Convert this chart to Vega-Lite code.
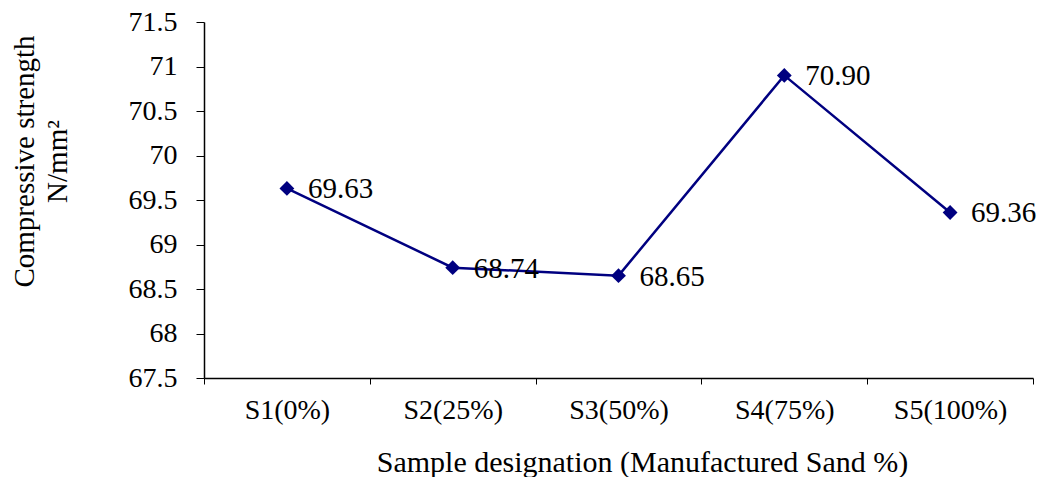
{
  "$schema": "https://vega.github.io/schema/vega-lite/v6.json",
  "autosize": "none",
  "width": 829,
  "height": 356,
  "padding": {"left": 204, "top": 22, "right": 7, "bottom": 99},
  "background": "white",
  "config": {
    "font": "Liberation Serif",
    "view": {"stroke": null},
    "axis": {
      "labelFont": "Liberation Serif",
      "titleFont": "Liberation Serif",
      "labelColor": "black",
      "titleColor": "black",
      "domainColor": "black",
      "tickColor": "black",
      "grid": false,
      "labelFontSize": 28,
      "titleFontSize": 29,
      "titleFontWeight": "normal"
    }
  },
  "data": {
    "values": [
      {"sample": "S1(0%)", "strength": 69.63},
      {"sample": "S2(25%)", "strength": 68.74},
      {"sample": "S3(50%)", "strength": 68.65},
      {"sample": "S4(75%)", "strength": 70.90},
      {"sample": "S5(100%)", "strength": 69.36}
    ]
  },
  "encoding": {
    "x": {
      "field": "sample",
      "type": "nominal",
      "sort": null,
      "scale": {"type": "band", "paddingInner": 0, "paddingOuter": 0},
      "axis": {
        "title": "Sample designation (Manufactured Sand %)",
        "titleFontSize": 30,
        "labelAngle": 0,
        "tickBand": "extent",
        "tickSize": 6,
        "labelPadding": 12,
        "titleX": 438,
        "titleY": 84,
        "titleAlign": "center",
        "titleBaseline": "middle",
        "domainWidth": 1.5
      }
    },
    "y": {
      "field": "strength",
      "type": "quantitative",
      "scale": {"domain": [67.5, 71.5], "nice": false, "zero": false},
      "axis": {
        "title": ["Compressive strength", "N/mm²"],
        "values": [67.5, 68, 68.5, 69, 69.5, 70, 70.5, 71, 71.5],
        "format": "~f",
        "tickSize": 8,
        "labelPadding": 19,
        "titleAngle": -90,
        "titleX": -194,
        "titleY": 139,
        "titleAlign": "center",
        "titleBaseline": "top",
        "titleLineHeight": 33,
        "domainWidth": 1.5
      }
    }
  },
  "layer": [
    {
      "mark": {"type": "line", "color": "#000080", "strokeWidth": 2.5}
    },
    {
      "mark": {"type": "point", "shape": "diamond", "filled": true, "color": "#000080", "size": 220, "opacity": 1}
    },
    {
      "mark": {"type": "text", "align": "left", "baseline": "middle", "dx": 21, "dy": 1, "fontSize": 29, "color": "black"},
      "encoding": {
        "text": {"field": "strength", "type": "quantitative", "format": ".2f"}
      }
    }
  ]
}
